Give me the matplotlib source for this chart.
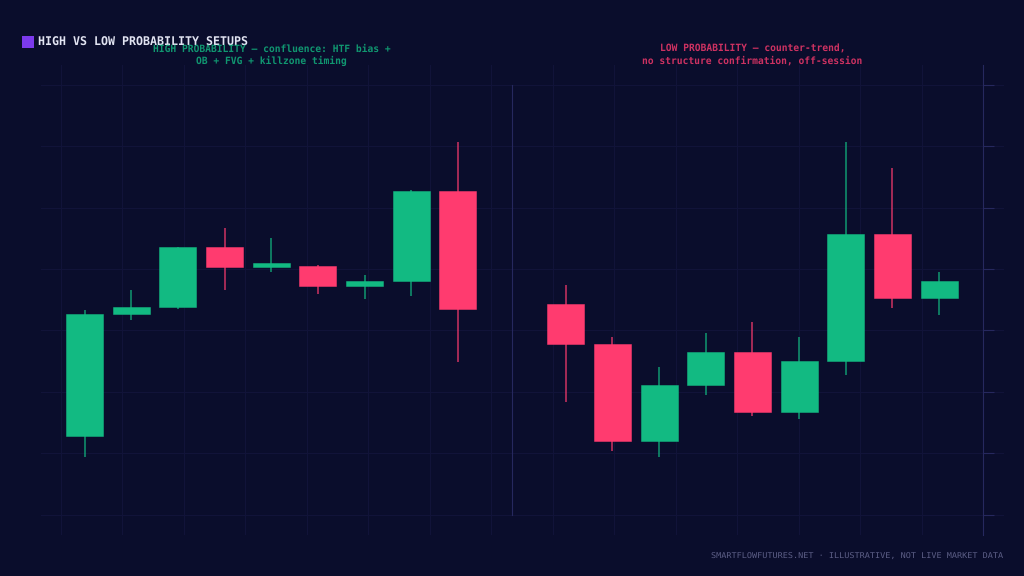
import matplotlib
matplotlib.use('Agg')
import matplotlib.pyplot as plt
from matplotlib.colors import to_rgb
from matplotlib.patches import Rectangle

plt.rcParams['text.hinting'] = 'no_hinting'

bg = '#0a0d2c'
green = '#12ba82'
red = '#ff3b6f'
grid_col = '#12143a'
axis_col = '#26285e'

# high probability side
x_left = [0, 1, 2, 3, 4, 5, 6, 7, 8]
open_left = [96.45, 106.34, 106.93, 111.76, 110.19, 110.24, 108.64, 109.02, 116.34]
close_left = [106.34, 106.93, 111.76, 110.19, 110.46, 108.64, 109.00, 116.34, 106.75]
high_left = [106.63, 108.32, 111.79, 113.33, 112.50, 110.33, 109.51, 116.42, 120.33]
low_left = [94.74, 105.83, 106.75, 108.32, 109.78, 107.97, 107.59, 107.80, 102.44]

# low probability side
x_right = [10.31, 11.31, 12.31, 13.31, 14.31, 15.31, 16.31, 17.31, 18.31]
open_right = [107.15, 103.90, 96.02, 100.57, 103.25, 98.37, 102.52, 112.85, 107.64]
close_right = [103.90, 96.02, 100.57, 103.25, 98.37, 102.52, 112.85, 107.64, 109.02]
high_right = [108.70, 104.47, 102.03, 104.80, 105.69, 104.47, 120.33, 118.21, 109.76]
low_right = [99.19, 95.20, 94.72, 99.76, 98.05, 97.80, 101.38, 106.83, 106.26]

y_grid = [90, 95, 100, 105, 110, 115, 120, 125]
x_grid = [-0.5035 + 1.317 * i for i in range(15)]
x_axis_line = 19.252
x_divider = 9.16

fig = plt.figure(figsize=(10.24, 5.76), dpi=100, facecolor=bg)
ax = fig.add_axes([41 / 1024, 1 - 535 / 576, 963 / 1024, 470 / 576], facecolor=bg)


def draw_candles(xs, opens, closes, highs, lows):
    for x, o, c, h, l in zip(xs, opens, closes, highs, lows):
        col = green if c >= o else red
        ax.plot([x, x], [l, h], color=col, lw=1.1, alpha=0.8, zorder=2, solid_capstyle='butt')
        ax.add_patch(Rectangle((x - 0.395, min(o, c)), 0.79, abs(c - o), facecolor=col,
                               edgecolor=(*to_rgb(col), 0.6), lw=0.6, zorder=3))


draw_candles(x_left, open_left, close_left, high_left, low_left)
draw_candles(x_right, open_right, close_right, high_right, low_right)

ax.set_xlim(-0.932, 19.70)
ax.set_ylim(88.37, 126.59)
ax.set_xticks(x_grid)
ax.set_yticks(y_grid)
ax.set_xticklabels([])
ax.set_yticklabels([])
ax.grid(True, color=grid_col, lw=0.7)
ax.set_axisbelow(True)
ax.tick_params(axis='x', length=0)
ax.tick_params(axis='y', left=False, right=True, length=7.9, width=0.8, color=axis_col)

for side in ['top', 'bottom', 'left']:
    ax.spines[side].set_visible(False)
ax.spines['right'].set_position(('data', x_axis_line))
ax.spines['right'].set_color(axis_col)
ax.spines['right'].set_linewidth(0.8)

ax.plot([x_divider, x_divider], [90, 125], color=axis_col, lw=0.8, zorder=1)

# header and notes
fig.patches.append(Rectangle((22 / 1024, 1 - 48 / 576), 12 / 1024, 12 / 576, transform=fig.transFigure,
                             facecolor='#7c3aed', edgecolor='none'))
fig.text(38 / 1024, 1 - 43 / 576, 'HIGH VS LOW PROBABILITY SETUPS', family='DejaVu Sans Mono',
         fontsize=8.4, fontweight='bold', color='#e2e4f2', va='center', ha='left')
fig.text(271.5 / 1024, 1 - 55 / 576, 'HIGH PROBABILITY — confluence: HTF bias +\nOB + FVG + killzone timing',
         family='DejaVu Sans Mono', fontsize=6.9, fontweight='bold', color=green, alpha=0.8,
         ha='center', va='center', linespacing=1.3)
fig.text(752.5 / 1024, 1 - 55 / 576, 'LOW PROBABILITY — counter-trend,\nno structure confirmation, off-session',
         family='DejaVu Sans Mono', fontsize=6.9, fontweight='bold', color=red, alpha=0.8,
         ha='center', va='center', linespacing=1.3)
fig.text(1003 / 1024, 1 - 556.5 / 576, 'SMARTFLOWFUTURES.NET · ILLUSTRATIVE, NOT LIVE MARKET DATA',
         family='DejaVu Sans Mono', fontsize=6.1, color='#5c5e86', ha='right', va='center')

fig.savefig('out.png', dpi=100, facecolor=bg)
